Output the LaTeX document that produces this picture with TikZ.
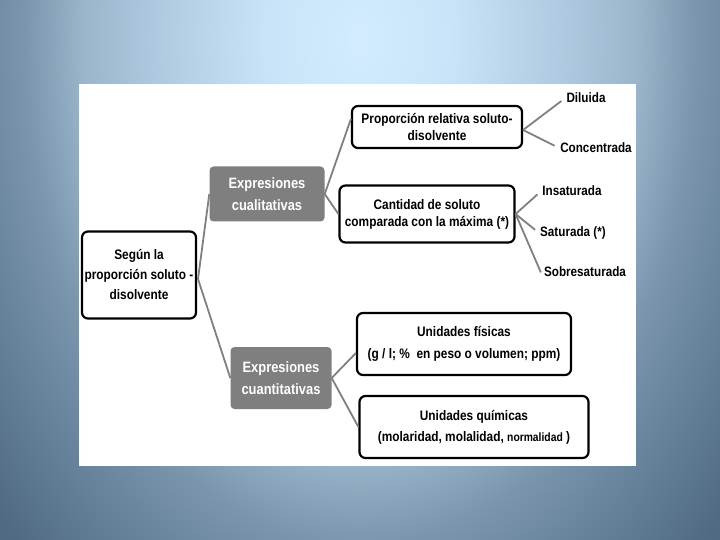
\documentclass[tikz,border=0pt]{standalone}
\usepackage{fontspec}
\setmainfont{Liberation Sans}[FakeStretch=0.86]
\definecolor{bgA}{HTML}{D3EDFF}
\definecolor{bgB}{HTML}{C8E2F7}
\definecolor{bgC}{HTML}{ADC8DE}
\definecolor{bgD}{HTML}{9AB4CA}
\definecolor{bgE}{HTML}{7A95AC}
\definecolor{bgF}{HTML}{6B87A0}
\definecolor{bgG}{HTML}{4F6A82}
\definecolor{boxgray}{HTML}{7F7F7F}
\definecolor{linegray}{HTML}{808080}
\pgfdeclareradialshading{bgshade}{\pgfpoint{0bp}{0bp}}{color(0bp)=(bgA); color(3.85bp)=(bgB); color(8.46bp)=(bgC); color(11.15bp)=(bgD); color(13.46bp)=(bgE); color(15.38bp)=(bgF); color(19.23bp)=(bgG); color(25bp)=(bgG); color(50bp)=(bgG)}
\tikzset{
  wbox/.style={draw=black, line width=2.2pt, rounded corners=6pt, fill=white, align=center, font=\bfseries\fontsize{13.8}{17}\selectfont, inner sep=0pt},
  gbox/.style={fill=boxgray, rounded corners=4pt, align=center, text=white, font=\bfseries\fontsize{15}{22}\selectfont, inner sep=0pt},
  leaf/.style={font=\bfseries\fontsize{13.6}{16}\selectfont, inner sep=1pt},
  conn/.style={draw=linegray, line width=1.8pt},
  toleaf/.style={conn, shorten >=5pt},
}
\begin{document}
\begin{tikzpicture}[x=1pt,y=-1pt]
\useasboundingbox (0,0) rectangle (720,540);
\begin{scope}
\clip (0,0) rectangle (720,540);
\shade[shading=bgshade] (360,40) ellipse [x radius=624, y radius=936];
\end{scope}
\fill[white] (79,84) rectangle (636,466);

% nodes
\node[wbox, minimum width=114pt, minimum height=87pt, font=\bfseries\fontsize{13.8}{20}\selectfont] (root) at (139,275) {Según la\\proporción soluto -\\disolvente};
\node[gbox, minimum width=115pt, minimum height=55pt] (cual) at (267,194) {Expresiones\\cualitativas};
\node[gbox, minimum width=101pt, minimum height=62pt] (cuan) at (281,378) {Expresiones\\cuantitativas};
\node[wbox, minimum width=170pt, minimum height=42pt] (prop) at (437,127) {Proporción relativa soluto-\\disolvente};
\node[wbox, minimum width=175pt, minimum height=57pt] (cant) at (427,214) {Cantidad de soluto\\comparada con la máxima (*)};
\node[wbox, minimum width=214pt, minimum height=62pt] (fis) at (464,344) {Unidades físicas\\[5pt](g / l; \% \ en peso o volumen; ppm)};
\node[wbox, minimum width=229pt, minimum height=62pt] (qui) at (474,427) {Unidades químicas\\[4pt](molaridad, molalidad, {\fontsize{12}{14}\selectfont normalidad} )};

\node[leaf] (dil) at (586,98) {Diluida};
\node[leaf] (con) at (596,148) {Concentrada};
\node[leaf] (ins) at (572,191) {Insaturada};
\node[leaf] (sat) at (573,233) {Saturada (*)};
\node[leaf] (sob) at (585,272) {Sobresaturada};

% connectors
\coordinate (rj) at (198,279);
\draw[conn] (rj) -- (cual.west);
\draw[conn] (rj) -- (cuan.west);
\draw[conn] (cual.east) -- ([yshift=8pt]prop.west);
\draw[conn] (cual.east) -- (cant.west);
\draw[toleaf] ([yshift=-3pt]prop.east) -- (dil.west);
\draw[toleaf] ([yshift=-3pt]prop.east) -- (con.west);
\draw[toleaf] (cant.east) -- (ins.west);
\draw[toleaf] (cant.east) -- (sat.west);
\draw[toleaf] (cant.east) -- ([yshift=-5pt]sob.west);
\draw[conn] (cuan.east) -- ([yshift=-9pt]fis.west);
\draw[conn] (cuan.east) -- (qui.west);
\end{tikzpicture}
\end{document}
